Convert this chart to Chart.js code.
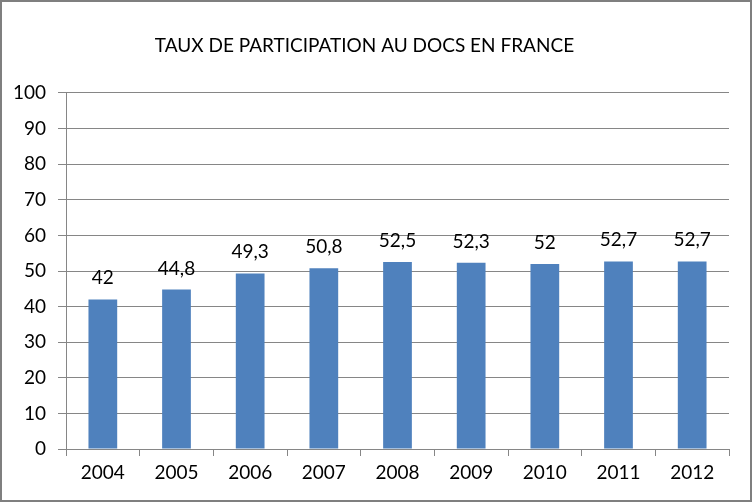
<!DOCTYPE html>
<html>
<head>
<meta charset="utf-8">
<script src="https://cdn.jsdelivr.net/npm/chart.js@4"></script>
<style>
  html, body { margin: 0; padding: 0; background: #fff; }
  #wrap { position: absolute; left: 0; top: 0; width: 753px; height: 502px; }
</style>
</head>
<body>
<div id="wrap"><canvas id="myChart" width="753" height="502"></canvas></div>
<script>
// Data
var years = ['2004', '2005', '2006', '2007', '2008', '2009', '2010', '2011', '2012'];
var participation = [42, 44.8, 49.3, 50.8, 52.5, 52.3, 52, 52.7, 52.7];
var yTicks = [0, 10, 20, 30, 40, 50, 60, 70, 80, 90, 100];

var FONT = 'Lato';
var SIZE = 19;
var gridColor = '#868686';

// value labels above the bars, french decimal comma
var barLabels = {
    id: 'barLabels',
    afterDatasetsDraw: function(chart) {
        var ctx = chart.ctx;
        var meta = chart.getDatasetMeta(0);
        ctx.save();
        ctx.font = SIZE + 'px ' + FONT;
        ctx.fillStyle = '#000';
        ctx.textAlign = 'center';
        ctx.textBaseline = 'alphabetic';
        meta.data.forEach(function(bar, i) {
            var txt = String(participation[i]).replace('.', ',');
            ctx.fillText(txt, bar.x, bar.y - 15);
        });
        ctx.restore();
    }
};

// outer frame
var frame = {
    id: 'frame',
    beforeDraw: function(chart) {
        var ctx = chart.ctx;
        ctx.save();
        ctx.fillStyle = '#fff';
        ctx.fillRect(0, 0, chart.width, chart.height);
        ctx.strokeStyle = '#7f7f7f';
        ctx.lineWidth = 2;
        ctx.strokeRect(1, 1, 750, 500);
        ctx.restore();
    }
};

var ctx = document.getElementById('myChart').getContext('2d');

var myChart = new Chart(ctx, {
    type: 'bar',
    data: {
        labels: years,
        datasets: [{
            label: 'Taux',
            data: participation,
            backgroundColor: '#4f81bd',
            barPercentage: 0.39,
            categoryPercentage: 1
        }]
    },
    options: {
        responsive: false,
        animation: false,
        layout: {
            padding: { left: 0, right: 24, top: 0, bottom: 0 }
        },
        plugins: {
            legend: { display: false },
            tooltip: { enabled: false },
            title: {
                display: true,
                text: 'TAUX DE PARTICIPATION AU DOCS EN FRANCE',
                color: '#000',
                font: { family: FONT, size: SIZE, weight: 'normal', lineHeight: 1.2 },
                padding: { top: 34.4, bottom: 35.8 }
            }
        },
        scales: {
            x: {
                grid: {
                    drawOnChartArea: false,
                    drawTicks: true,
                    tickLength: 7,
                    color: gridColor,
                    offset: true
                },
                border: { color: gridColor },
                ticks: {
                    color: '#000',
                    font: { family: FONT, size: SIZE },
                    padding: 5
                },
                afterFit: function(scale) { scale.height = 53; }
            },
            y: {
                min: 0,
                max: 100,
                afterBuildTicks: function(scale) {
                    scale.ticks = yTicks.map(function(v) { return { value: v }; });
                },
                grid: {
                    color: gridColor,
                    tickLength: 8
                },
                border: { color: gridColor },
                ticks: {
                    color: '#000',
                    font: { family: FONT, size: SIZE },
                    padding: 12
                },
                afterFit: function(scale) { scale.width = 66; }
            }
        }
    },
    plugins: [frame, barLabels]
});
</script>
</body>
</html>
